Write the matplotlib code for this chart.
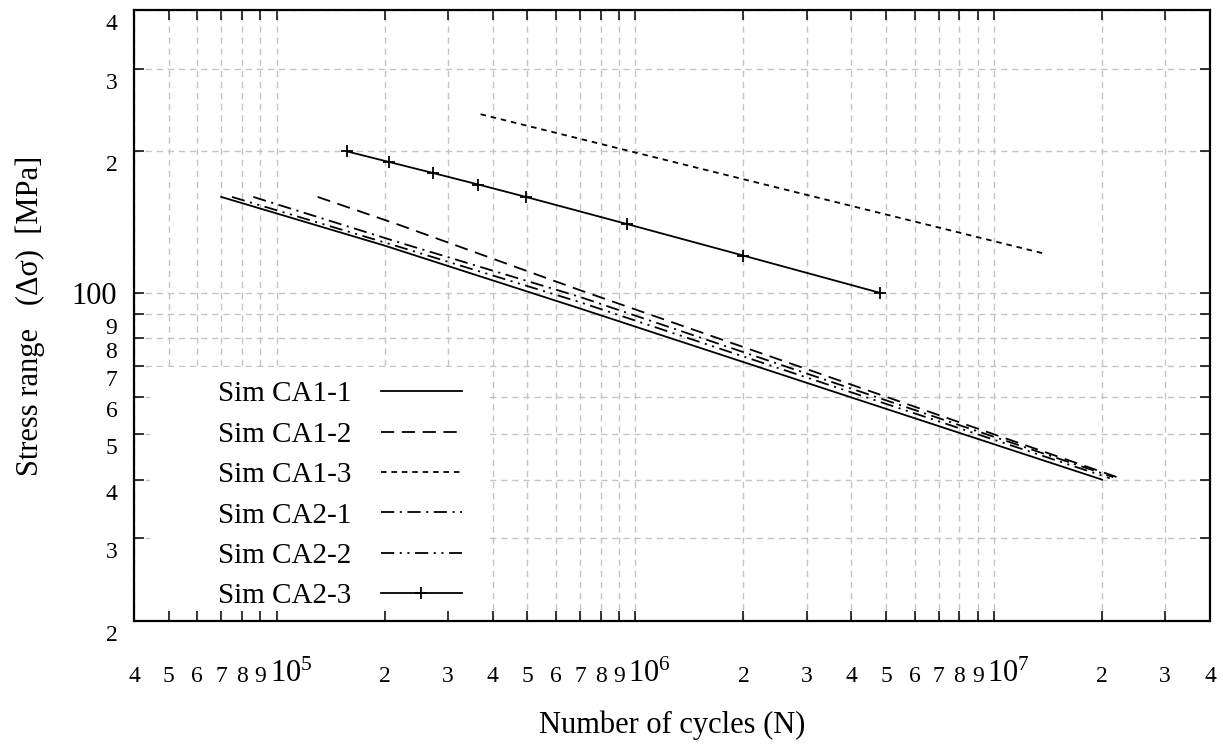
import numpy as np
import matplotlib
matplotlib.use('Agg')
from matplotlib import pyplot as plt, ticker
from matplotlib.patches import Rectangle
from matplotlib.transforms import ScaledTranslation

plt.rcParams['font.family'] = ['Liberation Serif', 'DejaVu Serif']
plt.rcParams['mathtext.fontset'] = 'custom'
plt.rcParams['mathtext.rm'] = 'Liberation Serif'
plt.rcParams['lines.scale_dashes'] = False

# simulated S-N curves
ca1_1_n = [7.0e4, 2.0e5, 7.0e5, 2.0e7]
ca1_1_s = [160, 126, 92.6, 40]
ca1_2_n = [1.3e5, 2.2e5, 7.0e5, 2.2e7]
ca1_2_s = [160, 139.4, 101.3, 40.5]
ca1_3_n = [3.7e5, 1.39e7]
ca1_3_s = [240, 121]
ca2_1_n = [8.6e4, 2.2e5, 7.0e5, 2.15e7]
ca2_1_s = [160, 127.9, 98, 40.5]
ca2_2_n = [7.5e4, 2.2e5, 7.0e5, 2.1e7]
ca2_2_s = [160, 125.2, 95.5, 40.3]
ca2_3_n = [1.57e5, 2.05e5, 2.72e5, 3.65e5, 4.95e5, 9.5e5, 2.0e6, 4.8e6]
ca2_3_s = [200, 190, 180, 170, 160, 140, 120, 100]

xlim = (4e4, 4e7)
ylim = (20, 400)

fig = plt.figure(figsize=(12.23, 7.44), dpi=100)
rect = [0.1096, 0.1653, 0.8798, 0.8212]

# background axes: grid + white legend box
axg = fig.add_axes(rect)
axg.set_xscale('log')
axg.set_yscale('log')
axg.set_xlim(*xlim)
axg.set_ylim(*ylim)
axg.xaxis.set_minor_locator(ticker.LogLocator(base=10, subs=np.arange(2, 10)))
axg.yaxis.set_minor_locator(ticker.LogLocator(base=10, subs=np.arange(2, 10)))
axg.grid(True, which='both', color='#c4c4c4', linewidth=1.0, linestyle=(0, (4.5, 3.5)))
axg.tick_params(which='both', length=0, labelbottom=False, labelleft=False)
for s in axg.spines.values():
    s.set_visible(False)
axg.add_patch(Rectangle((0.0149, 0), 0.313, 0.415, transform=axg.transAxes,
                        facecolor='white', edgecolor='none', zorder=3))

# main axes
ax = fig.add_axes(rect, facecolor='none')
ax.set_xscale('log')
ax.set_yscale('log')

lw = 1.3
ax.plot(ca1_1_n, ca1_1_s, color='black', lw=lw, linestyle='-', label='Sim CA1-1')
ax.plot(ca1_2_n, ca1_2_s, color='black', lw=lw, linestyle=(0, (9.5, 5.5)), label='Sim CA1-2')
ax.plot(ca1_3_n, ca1_3_s, color='black', lw=lw, linestyle=(0, (4, 3.5)), label='Sim CA1-3')
ax.plot(ca2_1_n, ca2_1_s, color='black', lw=lw, linestyle=(0, (9.5, 4, 1.5, 4)), label='Sim CA2-1')
ax.plot(ca2_2_n, ca2_2_s, color='black', lw=lw, linestyle=(0, (9.5, 4, 1.5, 4, 1.5, 4)), label='Sim CA2-2')
ax.plot(ca2_3_n, ca2_3_s, color='black', lw=lw, linestyle='-', marker='+', markersize=9,
        markeredgewidth=1.3, label='Sim CA2-3')

ax.set_xlim(*xlim)
ax.set_ylim(*ylim)

ax.xaxis.set_major_locator(ticker.LogLocator(base=10))
ax.xaxis.set_minor_locator(ticker.LogLocator(base=10, subs=np.arange(2, 10)))
ax.yaxis.set_major_locator(ticker.LogLocator(base=10))
ax.yaxis.set_minor_locator(ticker.LogLocator(base=10, subs=np.arange(2, 10)))


def lead_digit(v, pos):
    return '%d' % round(v / 10 ** np.floor(np.log10(v) + 1e-9))


ax.xaxis.set_major_formatter(ticker.FuncFormatter(
    lambda v, pos: r'$\mathregular{10^{%d}}$' % round(np.log10(v))))
ax.xaxis.set_minor_formatter(ticker.FuncFormatter(lead_digit))
ax.yaxis.set_major_formatter(ticker.FuncFormatter(lambda v, pos: '%g' % v))
ax.yaxis.set_minor_formatter(ticker.FuncFormatter(lead_digit))

ax.tick_params(which='both', direction='in', top=True, right=True, length=7, width=1.1)
ax.tick_params(axis='x', which='minor', labelsize=17, pad=44)
ax.tick_params(axis='x', which='major', labelsize=22, pad=44)
ax.tick_params(axis='y', which='minor', labelsize=17, pad=12)
ax.tick_params(axis='y', which='major', labelsize=22, pad=12)
for s in ax.spines.values():
    s.set_linewidth(1.6)

for lbl in ax.xaxis.get_majorticklabels() + ax.xaxis.get_minorticklabels():
    lbl.set_verticalalignment('baseline')
shift = ScaledTranslation(-0.07, 0, fig.dpi_scale_trans)
for lbl in ax.xaxis.get_majorticklabels():
    lbl.set_horizontalalignment('left')
    lbl.set_transform(lbl.get_transform() + shift)
down = ScaledTranslation(0, -0.04, fig.dpi_scale_trans)
for lbl in ax.yaxis.get_minorticklabels():
    lbl.set_verticalalignment('top')
    lbl.set_transform(lbl.get_transform() + down)

ax.set_xlabel('Number of cycles (N)', fontsize=22)
ax.set_ylabel('Stress range   (\u0394\u03c3)  [MPa]', fontsize=22)
ax.xaxis.set_label_coords(0.5, -0.147)
ax.yaxis.set_label_coords(-0.083, 0.5)

ax.legend(loc='lower left', bbox_to_anchor=(0.078, 0.019), frameon=False, fontsize=21,
          markerfirst=False, handlelength=2.8, handletextpad=1.0, labelspacing=0.48,
          borderpad=0, borderaxespad=0)

fig.savefig('out.png', dpi=100)
